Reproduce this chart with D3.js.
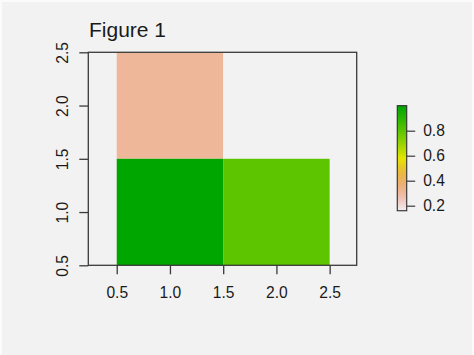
<!DOCTYPE html>
<html>
<head>
<meta charset="utf-8">
<script src="https://cdn.jsdelivr.net/npm/d3@7"></script>
<style>
  html, body { margin: 0; padding: 0; background: #f2f2f2; }
  svg { display: block; }
  text { font-family: "Liberation Sans", Arial, sans-serif; fill: #1a1a1a; }
</style>
</head>
<body>
<svg id="chart" width="474" height="355"></svg>
<script>
// ---- data ----
const title = "Figure 1";
const cellX = [1, 2, 1, 2];          // cell centres (x)
const cellY = [2, 2, 1, 1];          // cell centres (y)
const cellValue = [0.31, 0.16, 1.0, 0.80];
const valueRange = [0.16, 1.0];
const xTicks = [0.5, 1.0, 1.5, 2.0, 2.5];
const yTicks = [0.5, 1.0, 1.5, 2.0, 2.5];
const legendTicks = [0.2, 0.4, 0.6, 0.8];

// ---- colour: rev(terrain.colors) ----
function hsv2rgb(h, s, v) {
  const i = Math.floor(h * 6) % 6, f = h * 6 - Math.floor(h * 6);
  const p = v * (1 - s), q = v * (1 - s * f), t = v * (1 - s * (1 - f));
  const m = [[v,t,p],[q,v,p],[p,v,t],[p,q,v],[t,p,v],[v,p,q]][i];
  return d3.rgb(m[0]*255, m[1]*255, m[2]*255).formatHex();
}
function terrainRev(p) {
  p = Math.max(0, Math.min(1, p));
  if (p >= 0.5) {
    const u = (1 - p) / 0.5;
    return hsv2rgb((4 - 2 * u) / 12, 1, 0.65 + 0.25 * u);
  } else {
    const t = (0.5 - p) / 0.5;
    return hsv2rgb((2 / 12) * (1 - t), 1 - t, 0.9 + 0.05 * t);
  }
}
const norm = d3.scaleLinear().domain(valueRange).range([0, 1]);
const color = v => terrainRev(norm(v));

const FS = 15.6;
const svg = d3.select("#chart");
svg.append("rect").attr("width", 474).attr("height", 355).attr("fill", "#fbfbfb");
svg.append("rect").attr("x", 2).attr("y", 2).attr("width", 470).attr("height", 353).attr("fill", "#f2f2f2");

const x = d3.scaleLinear().domain([0.233, 2.754]).range([88.3, 356.7]);
const y = d3.scaleLinear().domain([0.5, 2.5]).range([265.3, 52.3]);

// cells
svg.append("g").selectAll("rect")
  .data(cellValue.map((v, i) => ({x: cellX[i], y: cellY[i], v})))
  .join("rect")
  .attr("x", d => x(d.x - 0.5))
  .attr("y", d => y(d.y + 0.5))
  .attr("width", d => x(d.x + 0.5) - x(d.x - 0.5))
  .attr("height", d => y(d.y - 0.5) - y(d.y + 0.5))
  .attr("fill", d => color(d.v));

// box
svg.append("rect")
  .attr("x", x.range()[0]).attr("y", y.range()[1])
  .attr("width", x.range()[1] - x.range()[0])
  .attr("height", y.range()[0] - y.range()[1])
  .attr("fill", "none").attr("stroke", "#3a3a3a").attr("stroke-width", 1.3);

// x axis
const xa = svg.append("g").attr("transform", `translate(0,${y.range()[0]})`)
  .call(d3.axisBottom(x).tickValues(xTicks).tickFormat(d3.format(".1f")).tickSize(9).tickPadding(13));
xa.select(".domain").remove();
xa.selectAll("line").attr("stroke", "#3a3a3a").attr("stroke-width", 1.3);
xa.selectAll("text").attr("font-size", FS).attr("font-family", "Liberation Sans, Arial, sans-serif").attr("fill", "#1a1a1a");

// y axis (rotated labels)
const ya = svg.append("g").attr("transform", `translate(${x.range()[0]},0)`)
  .call(d3.axisLeft(y).tickValues(yTicks).tickFormat(d3.format(".1f")).tickSize(9).tickPadding(0));
ya.select(".domain").remove();
ya.selectAll("line").attr("stroke", "#3a3a3a").attr("stroke-width", 1.3);
ya.selectAll("text")
  .attr("font-size", FS).attr("font-family", "Liberation Sans, Arial, sans-serif").attr("fill", "#1a1a1a")
  .attr("x", null).attr("dy", null)
  .attr("text-anchor", "middle")
  .attr("transform", "translate(-25.5,0) rotate(-90)")
  .attr("dominant-baseline", "central");

// title
svg.append("text").attr("x", 89).attr("y", 36.5)
  .attr("font-size", 21).text(title);

// legend
const ly = d3.scaleLinear().domain(valueRange).range([210.7, 105.7]);
const lx0 = 397.3, lw = 9.4;
const steps = d3.range(255).map(i => valueRange[0] + (valueRange[1] - valueRange[0]) * i / 255);
const stepH = (ly(valueRange[0]) - ly(valueRange[1])) / 255;
svg.append("g").selectAll("rect").data(steps).join("rect")
  .attr("x", lx0).attr("width", lw)
  .attr("y", d => ly(d) - stepH - 0.3)
  .attr("height", stepH + 0.6)
  .attr("fill", d => color(d + (valueRange[1] - valueRange[0]) / 510));
svg.append("rect").attr("x", lx0).attr("y", ly(valueRange[1]))
  .attr("width", lw).attr("height", ly(valueRange[0]) - ly(valueRange[1]))
  .attr("fill", "none").attr("stroke", "#3a3a3a").attr("stroke-width", 1.2);
const la = svg.append("g").attr("transform", `translate(${lx0 + lw},0)`)
  .call(d3.axisRight(ly).tickValues(legendTicks).tickFormat(d3.format(".1f")).tickSize(8.5).tickPadding(8));
la.select(".domain").remove();
la.selectAll("line").attr("stroke", "#3a3a3a").attr("stroke-width", 1.2);
la.selectAll("text").attr("font-size", FS).attr("font-family", "Liberation Sans, Arial, sans-serif").attr("fill", "#1a1a1a");
</script>
</body>
</html>
